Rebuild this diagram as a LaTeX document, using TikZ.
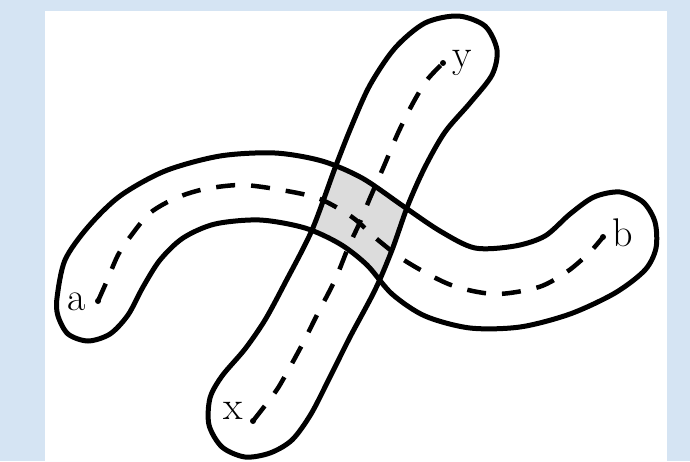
\documentclass[tikz,border=0pt]{standalone}
\definecolor{hintergrund}{RGB}{213,228,243}
\definecolor{schnitt}{RGB}{220,220,220}
% Umrisse der beiden Schlaeuche:
\def\schlauchA{plot[smooth cycle] coordinates {(57,298) (65,260) (88,227) (120,196) (165,171) (220,156) (275,153) (322,161) (362,178) (403,206) (440,231) (475,248) (515,246) (545,236) (570,214) (594,197) (620,192) (643,202) (655,222) (656,248) (645,270) (615,293) (570,314) (520,327) (470,328) (425,316) (392,294) (367,265) (340,244) (305,228) (260,220) (215,224) (183,238) (160,260) (143,287) (128,315) (110,334) (88,341) (68,334) (58,316)}}
\def\schlauchB{plot[smooth cycle] coordinates {(245,457) (222,447) (209,425) (210,398) (222,376) (245,349) (265,320) (285,283) (312,230) (335,168) (352,125) (370,85) (395,48) (425,23) (458,16) (485,26) (497,50) (492,75) (470,103) (445,132) (425,167) (408,205) (392,250) (375,290) (350,337) (330,377) (311,414) (292,440) (270,453)}}
\begin{document}
\begin{tikzpicture}[x=1pt,y=-1pt,
  rand/.style={line width=5pt, line join=round},
  mitte/.style={line width=4.5pt, dash pattern=on 19pt off 16pt},
  marke/.style={anchor=base, inner sep=0pt, font=\fontsize{40}{48}\selectfont}]
\useasboundingbox (0,0) rectangle (690,461);
\fill[hintergrund] (0,0) rectangle (690,461); % Rand
\fill[white] (45,11) rectangle (667,461); % Blatt
% Schnittflaeche:
\begin{scope}
  \clip \schlauchA;
  \fill[schnitt] \schlauchB;
\end{scope}
\draw[rand] \schlauchA; % Schlauch a--b
\draw[rand] \schlauchB; % Schlauch x--y
% Endpunkte:
\coordinate (a) at (98,301);
\coordinate (b) at (603,237);
\coordinate (x) at (253,421);
\coordinate (y) at (443,63);
% Mittellinien:
\draw[mitte] plot[smooth] coordinates {(98,301) (106,283) (118,255) (130,237) (150,213) (176,198) (205,189) (243,185) (287,191) (320,199) (352,217) (378,240) (407,262) (451,285) (495,294) (539,287) (568,271) (590,252) (603,237)};
\draw[mitte] plot[smooth] coordinates {(253,421) (267,403) (278,388) (290,367) (303,343) (318,313) (335,280) (348,248) (360,222) (370,198) (384,166) (398,133) (413,103) (427,80) (443,63)};
\foreach \p in {a,b,x,y}
  \fill (\p) circle (3pt);
\node[marke] (la) at (77,310) {a};
\node[marke] (lb) at (623,246) {b};
\node[marke] (lx) at (233,419) {x};
\node[marke] (ly) at (462,67) {y};
\end{tikzpicture}
\end{document}
